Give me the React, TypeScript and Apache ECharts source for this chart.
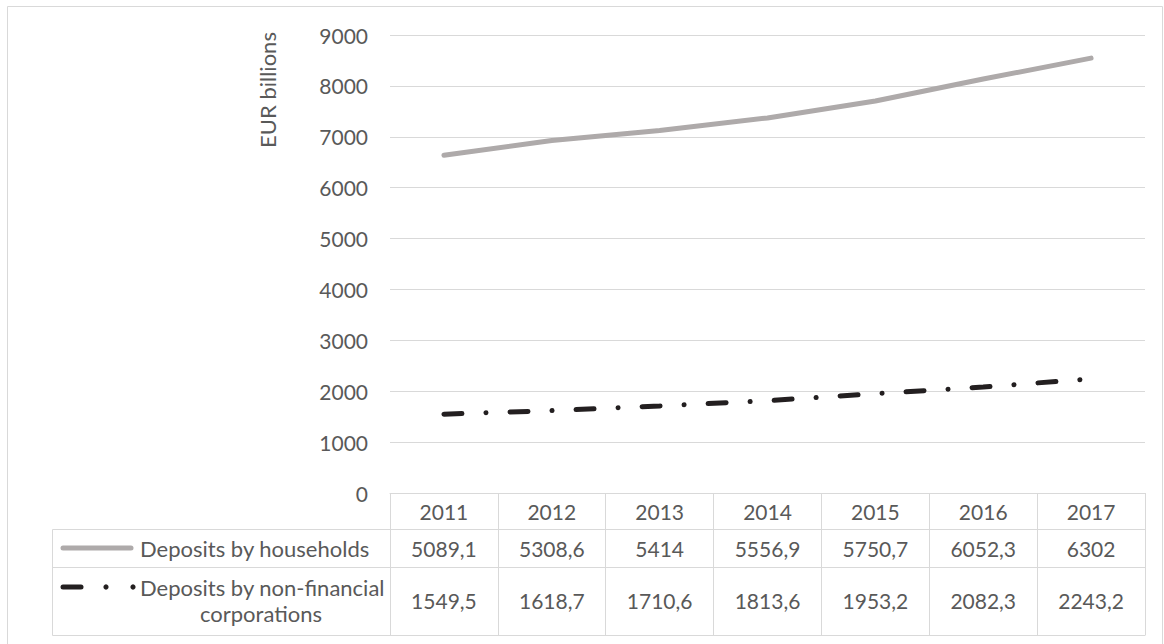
import React, { useEffect, useRef } from "react";
import * as echarts from "echarts";

const years = ["2011", "2012", "2013", "2014", "2015", "2016", "2017"];
const households = [5089.1, 5308.6, 5414, 5556.9, 5750.7, 6052.3, 6302];
const corporations = [1549.5, 1618.7, 1710.6, 1813.6, 1953.2, 2082.3, 2243.2];
const householdLabels = ["5089,1", "5308,6", "5414", "5556,9", "5750,7", "6052,3", "6302"];
const corporationLabels = ["1549,5", "1618,7", "1710,6", "1813,6", "1953,2", "2082,3", "2243,2"];
const yTicks = { min: 0, max: 9000, interval: 1000 };

const FONT = "Lato";
const TXT = "#595959";
const GRID = "#d9d9d9";
const GRAY = "#AEAAAA";
const BLACK = "#231F20";
const NUM = 21;
const WORD = 22;

export default function App() {
  const ref = useRef<HTMLDivElement>(null);
  useEffect(() => {
    if (!ref.current) return;
    const chart = echarts.init(ref.current, null, { renderer: "svg" });
    const gridLeft = 390;
    const gridRight = 19;
    const gridTop = 35;
    const gridBottom = 151;
    const axisY = 644 - gridBottom; // 493
    const row1 = 529.5;
    const row2 = 567.5;
    const row3 = 635.5;
    const tableLeft = 52.5;
    const tableRight = 1164 - gridRight;

    const base: any = {
      animation: false,
      textStyle: { fontFamily: FONT },
      grid: { left: gridLeft, right: gridRight, top: gridTop, bottom: gridBottom },
      xAxis: {
        type: "category",
        data: years,
        boundaryGap: true,
        axisLine: { show: true, lineStyle: { color: GRID, width: 1 } },
        axisTick: { show: true, interval: 0, length: row3 - axisY, lineStyle: { color: GRID, width: 1 } },
        axisLabel: { color: TXT, fontSize: NUM, fontFamily: FONT, margin: 18, verticalAlign: "middle", interval: 0 },
        splitLine: { show: false },
      },
      yAxis: {
        type: "value",
        min: yTicks.min,
        max: yTicks.max,
        interval: yTicks.interval,
        axisLine: { show: false },
        axisTick: { show: false },
        axisLabel: { color: TXT, fontSize: NUM, fontFamily: FONT, margin: 22, formatter: (v: number) => String(v) },
        splitLine: { lineStyle: { color: GRID, width: 1 } },
      },
      series: [
        {
          name: "Deposits by non-financial corporations",
          type: "line",
          stack: "total",
          data: corporations,
          symbol: "none",
          lineStyle: { color: BLACK, width: 5, type: [18, 24, 0.1, 24], cap: "round" },
          itemStyle: { color: BLACK },
          z: 3,
        },
        {
          name: "Deposits by households",
          type: "line",
          stack: "total",
          data: households,
          symbol: "none",
          lineStyle: { color: GRAY, width: 5, cap: "round" },
          itemStyle: { color: GRAY },
          z: 2,
        },
      ],
    };
    chart.setOption(base);

    const cx = years.map((_, i) => chart.convertToPixel({ xAxisIndex: 0 }, i) as number);
    const graphics: any[] = [
      {
        type: "rect",
        shape: { x: 7.5, y: 6.5, width: 1155, height: 660 },
        style: { fill: "none", stroke: GRID, lineWidth: 1 },
        silent: true,
      },
      {
        type: "text",
        x: 267,
        y: 90,
        rotation: Math.PI / 2,
        style: { text: "EUR billions", fill: TXT, font: `${WORD}px ${FONT}`, textAlign: "center", textVerticalAlign: "middle" },
      },
      { type: "line", shape: { x1: tableLeft, y1: row1, x2: tableRight, y2: row1 }, style: { stroke: GRID, lineWidth: 1 } },
      { type: "line", shape: { x1: tableLeft, y1: row2, x2: tableRight, y2: row2 }, style: { stroke: GRID, lineWidth: 1 } },
      { type: "line", shape: { x1: tableLeft, y1: row3, x2: tableRight, y2: row3 }, style: { stroke: GRID, lineWidth: 1 } },
      { type: "line", shape: { x1: tableLeft, y1: row1, x2: tableLeft, y2: row3 }, style: { stroke: GRID, lineWidth: 1 } },
      // legend keys
      { type: "line", shape: { x1: 63, y1: 548, x2: 131, y2: 548 }, style: { stroke: GRAY, lineWidth: 5, lineCap: "round" } },
      { type: "line", shape: { x1: 63, y1: 587, x2: 81, y2: 587 }, style: { stroke: BLACK, lineWidth: 5, lineCap: "round" } },
      { type: "circle", shape: { cx: 106, cy: 587, r: 2.6 }, style: { fill: BLACK } },
      { type: "circle", shape: { cx: 133, cy: 587, r: 2.6 }, style: { fill: BLACK } },
      {
        type: "text",
        x: 140,
        y: 548,
        style: { text: "Deposits by households", fill: TXT, font: `${WORD}px ${FONT}`, textAlign: "left", textVerticalAlign: "middle" },
      },
      {
        type: "text",
        x: 140,
        y: 587,
        style: { text: "Deposits by non-financial", fill: TXT, font: `${WORD}px ${FONT}`, textAlign: "left", textVerticalAlign: "middle" },
      },
      {
        type: "text",
        x: 261,
        y: 613,
        style: { text: "corporations", fill: TXT, font: `${WORD}px ${FONT}`, textAlign: "center", textVerticalAlign: "middle" },
      },
    ];
    householdLabels.forEach((t, i) => {
      graphics.push({
        type: "text",
        x: cx[i],
        y: 548,
        style: { text: t, fill: TXT, font: `${NUM}px ${FONT}`, textAlign: "center", textVerticalAlign: "middle" },
      });
    });
    corporationLabels.forEach((t, i) => {
      graphics.push({
        type: "text",
        x: cx[i],
        y: 600,
        style: { text: t, fill: TXT, font: `${NUM}px ${FONT}`, textAlign: "center", textVerticalAlign: "middle" },
      });
    });
    chart.setOption({ graphic: graphics });
    return () => chart.dispose();
  }, []);
  return (
    <div
      ref={ref}
      style={{ position: "fixed", left: 0, top: 0, width: 1164, height: 644, background: "#fff" }}
    />
  );
}
